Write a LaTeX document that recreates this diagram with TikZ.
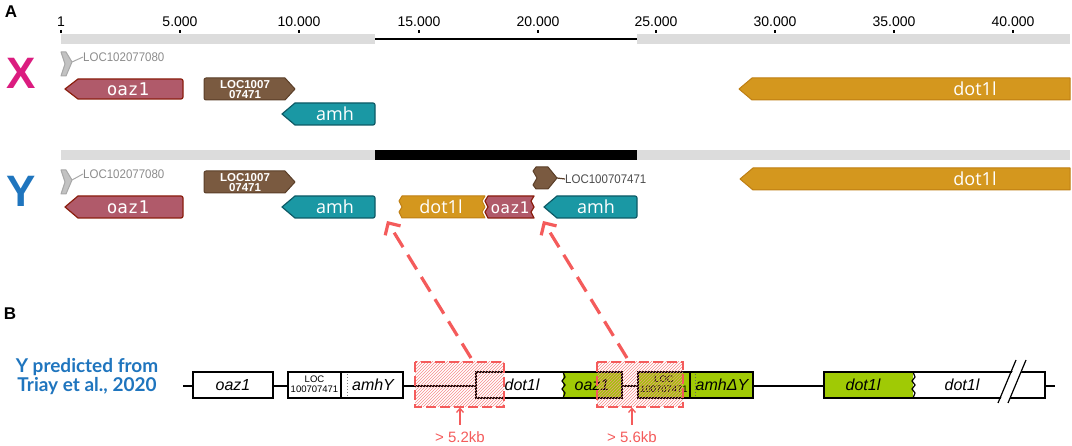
\documentclass[tikz,border=0pt]{standalone}
\usepackage{fontspec}
\setmainfont{Liberation Sans}
\newfontfamily\genefont{Open Sans}
\newfontfamily\genemono{DejaVu Sans Mono}
\newfontfamily\headfont{Lato}
\usetikzlibrary{arrows.meta,patterns}
\definecolor{mauve}{HTML}{B05A6A}
\definecolor{mauveD}{HTML}{8A1E0E}
\definecolor{brownG}{HTML}{7A5A40}
\definecolor{brownD}{HTML}{5A3E28}
\definecolor{tealG}{HTML}{1A98A4}
\definecolor{tealD}{HTML}{0D5A66}
\definecolor{goldG}{HTML}{D4971E}
\definecolor{goldD}{HTML}{BE7E12}
\definecolor{grayG}{HTML}{A8A8A8}
\definecolor{grayD}{HTML}{8C8C8C}
\definecolor{barG}{HTML}{DCDCDC}
\definecolor{greenB}{HTML}{A0CA05}
\definecolor{redA}{HTML}{F45B5B}
\definecolor{magX}{HTML}{DB1C7F}
\definecolor{blueY}{HTML}{1F75BE}
\begin{document}
\begin{tikzpicture}[x=1pt,y=-1pt,
  scalelbl/.style={font=\fontsize{14}{14}\selectfont, anchor=base, inner sep=0pt},
  tick/.style={line width=1.3pt},
  genetxt/.style={text=white, font=\genefont\fontsize{18}{18}\selectfont, inner sep=0pt},
  monotxt/.style={text=white, font=\genemono\fontsize{17.5}{17.5}\selectfont, inner sep=0pt},
  loctxt/.style={text=white, font=\bfseries\fontsize{11.5}{10.2}\selectfont, align=center, inner sep=0pt},
  smalllbl/.style={text=grayD, font=\fontsize{12.5}{12.5}\selectfont, anchor=west, inner sep=0pt, xscale=0.92},
  goaz/.style={fill=mauve, draw=mauveD, line width=1.2pt, line join=round},
  gbrown/.style={fill=brownG, draw=brownD, line width=1pt, line join=round},
  gteal/.style={fill=tealG, draw=tealD, line width=1.2pt, line join=round},
  ggold/.style={fill=goldG, draw=goldD, line width=1pt, line join=round},
  ggray/.style={fill=grayG!70, draw=grayG, line width=1pt, line join=round},
  bbox/.style={draw=black, line width=1.6pt},
  btxt/.style={font=\itshape\fontsize{16}{16}\selectfont, inner sep=0pt},
  bloc/.style={font=\fontsize{9.5}{10}\selectfont, align=center, inner sep=0pt},
  hatchbox/.style={draw=redA, line width=1.4pt, dash pattern=on 10pt off 4pt, pattern=north east lines, pattern color=redA!70},
  bigarrow/.style={draw=redA, line width=3.2pt, dash pattern=on 17pt off 9pt, -{Straight Barb[length=9pt,width=18pt]}},
  smallarrow/.style={draw=redA, line width=1.3pt, -{Straight Barb[length=4pt,width=7pt]}},
  redlbl/.style={text=redA, font=\fontsize{15}{15}\selectfont, inner sep=0pt},
]
\useasboundingbox (0,0) rectangle (1072,446);

% ---------- Panel A ----------
\node[font=\bfseries\fontsize{17}{17}\selectfont, inner sep=0pt] (lblA) at (11,12) {A};
\node[font=\bfseries\fontsize{17}{17}\selectfont, inner sep=0pt] (lblB) at (10,314) {B};

% scale
\fill[barG] (61,34) rectangle (375,44);
\draw[line width=1.4pt] (375,39) -- (637,39);
\fill[barG] (637,34) rectangle (1070,44);
\foreach \x/\t [count=\i] in {61/1,180/5.000,299/10.000,419/15.000,538/20.000,656/25.000,775/30.000,894/35.000,1013/40.000}{
  \draw[tick] (\x,30) -- (\x,33.5);
  \node[scalelbl] (sc\i) at (\x,27) {\t};
}

% X label
\node[text=magX, font=\bfseries\fontsize{44}{44}\selectfont, inner sep=0pt] (X) at (21,73) {X};

% X row genes
\path[ggray] (61,52) -- (66,52) -- (72,62) -- (66,76) -- (61,76) -- (65,64) -- cycle;
\coordinate (cx1) at (72,62);
\node[smalllbl] (locx) at (83,57) {LOC102077080};
\draw[grayG, line width=1pt] (cx1) -- (locx.west);

\path[goaz] (65,89) -- (78,79) [rounded corners=2pt]-- (183,79) -- (183,99) [sharp corners]-- (78,99) -- cycle;
\node[monotxt] (oazX) at (128,89.5) {oaz1};

\path[gbrown] (295,89) -- (285,78) [rounded corners=2pt]-- (204,78) -- (204,100) [sharp corners]-- (285,100) -- cycle;
\node[loctxt] (locbX) at (245,89.5) {LOC1007\\07471};

\path[gteal] (282,114) -- (295,103) [rounded corners=2pt]-- (375,103) -- (375,125) [sharp corners]-- (295,125) -- cycle;
\node[genetxt] (amhX) at (335,114) {amh};

\path[ggold] (739,89) -- (752,78) -- (1070,78) -- (1070,100) -- (752,100) -- cycle;
\node[genetxt] (dotX) at (975,89) {dot1l};

% ---------- Y row ----------
\fill[barG] (61,150) rectangle (375,160);
\fill[black] (375,150) rectangle (637,160);
\fill[barG] (637,150) rectangle (1070,160);

\node[text=blueY, font=\bfseries\fontsize{44}{44}\selectfont, inner sep=0pt] (Y) at (21,191) {Y};

\path[ggray] (61,170) -- (66,170) -- (72,180) -- (66,194) -- (61,194) -- (65,182) -- cycle;
\coordinate (cy1) at (72,180);
\node[smalllbl] (locy) at (83,174) {LOC102077080};
\draw[grayG, line width=1pt] (cy1) -- (locy.west);

\path[gbrown] (295,182) -- (285,171) [rounded corners=2pt]-- (204,171) -- (204,193) [sharp corners]-- (285,193) -- cycle;
\node[loctxt] (locbY) at (245,182.5) {LOC1007\\07471};

\path[goaz] (65,207) -- (78,196) [rounded corners=2pt]-- (183,196) -- (183,218) [sharp corners]-- (78,218) -- cycle;
\node[monotxt] (oazY) at (128,207.5) {oaz1};

\path[gteal] (282,207) -- (295,196) [rounded corners=2pt]-- (375,196) -- (375,218) [sharp corners]-- (295,218) -- cycle;
\node[genetxt] (amhY1) at (335,207) {amh};

% small dot1l fragment
\path[ggold] (402,196) -- (485,196) -- (482,201) -- (485,207) -- (482,212) -- (485,218) -- (402,218) -- (399,212) -- (402,207) -- (399,201) -- cycle;
\node[genetxt] (dotY1) at (441,207) {dot1l};
% small oaz1 fragment
\path[goaz] (488,196) -- (534,196) -- (531,201) -- (534,207) -- (531,212) -- (534,218) -- (488,218) -- (485,212) -- (488,207) -- (485,201) -- cycle;
\node[monotxt, font=\genemono\fontsize{16}{16}\selectfont] (oazY2) at (510,207.5) {oaz1};

% small LOC100707471
\path[gbrown] (536,167) -- (548,167) -- (557,178) -- (548,189) -- (536,189) -- (533,185) -- (537,178) -- (533,171) -- cycle;
\coordinate (cy2) at (557,178);
\node[smalllbl, text=black!70] (locy2) at (565,179) {LOC100707471};
\draw[brownD, line width=1.2pt] (cy2) -- (locy2.west);

\path[gteal] (544,207) -- (557,196) [rounded corners=2pt]-- (637,196) -- (637,218) [sharp corners]-- (557,218) -- cycle;
\node[genetxt] (amhY2) at (596,207) {amh};

\path[ggold] (740,179) -- (753,168) -- (1070,168) -- (1070,190) -- (753,190) -- cycle;
\node[genetxt] (dotY2) at (975,179) {dot1l};

% ---------- Panel B ----------
\node[text=blueY, font=\headfont\bfseries\fontsize{19}{19}\selectfont, anchor=base, inner sep=0pt] (pred1) at (87,373) {Y predicted from};
\node[text=blueY, font=\headfont\bfseries\fontsize{19}{19}\selectfont, anchor=base, inner sep=0pt] (pred2) at (87,392) {Triay et al., 2020};

\draw[line width=1.6pt] (183,386) -- (1055,386);

\draw[bbox, fill=white] (193,372) rectangle (273,398);
\node[btxt] (boaz) at (233,385) {oaz1};

\draw[bbox, fill=white] (288,372) rectangle (403,398);
\draw[line width=1.2pt] (341,372) -- (341,398);
\draw[gray, line width=0.8pt, dash pattern=on 1.5pt off 1.5pt] (347,374) -- (347,396);
\node[bloc] (bloc1) at (314.5,384) {LOC\\100707471};
\node[btxt] (bamh) at (373,385) {amhY};

% dot1l white + oaz1 green
\draw[bbox, fill=white] (563,372) -- (476,372) -- (476,398) -- (563,398);
\node[btxt] (bdot1) at (522,385) {dot1l};
\draw[bbox, fill=greenB] (563,372) -- (622,372) -- (622,398) -- (563,398);
\draw[line width=1.2pt] (563,372) -- (565,377) -- (562,381) -- (565,385) -- (562,389) -- (565,393) -- (563,398);
\node[btxt] (boaz2) at (592,385) {oaz1};

\draw[bbox, fill=greenB] (638,372) rectangle (753,398);
\draw[line width=1.2pt] (690,372) -- (690,398);
\draw[black!60, line width=0.8pt, dash pattern=on 1.5pt off 1.5pt] (695,374) -- (695,396);
\node[bloc] (bloc2) at (664,384) {LOC\\100707471};
\node[btxt] (bamhd) at (722,385) {amhΔY};

% dot1l green + white
\draw[bbox, fill=white] (913,372) -- (1045,372) -- (1045,398) -- (913,398);
\draw[bbox, fill=greenB] (913,372) -- (824,372) -- (824,398) -- (913,398);
\draw[line width=1.2pt] (913,372) -- (915,377) -- (912,381) -- (915,385) -- (912,389) -- (915,393) -- (913,398);
\node[btxt] (bdot2) at (863,385) {dot1l};
\node[btxt] (bdot3) at (962,385) {dot1l};
% break slashes
\fill[white] (999,403) -- (1017,361) -- (1026,361) -- (1008,403) -- cycle;
\draw[line width=1.2pt] (998,403) -- (1016,360);
\draw[line width=1.2pt] (1008,403) -- (1026,360);

% hatched boxes
\path[hatchbox] (415,362) rectangle (504,407);
\path[hatchbox] (597,362) rectangle (683,407);

% dashed arrows
\coordinate (h1) at (471,358);
\coordinate (h2) at (627,358);
\coordinate (t1) at (387,221);
\coordinate (t2) at (543,221);
\draw[bigarrow] (h1) -- (t1);
\draw[bigarrow] (h2) -- (t2);

% size labels
\node[redlbl] (kb1) at (460,437) {> 5.2kb};
\node[redlbl] (kb2) at (632,437) {> 5.6kb};
\coordinate (b1) at (460,407.5);
\coordinate (b2) at (632,407.5);
\draw[smallarrow] (kb1.north |- 0,425) -- (b1);
\draw[smallarrow] (kb2.north |- 0,425) -- (b2);
\end{tikzpicture}
\end{document}
